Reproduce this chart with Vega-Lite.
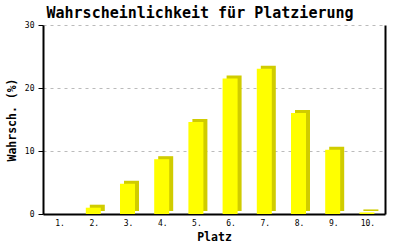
{
  "$schema": "https://vega.github.io/schema/vega-lite/v6.json",
  "autosize": "none",
  "width": 342,
  "height": 189,
  "padding": {"left": 43, "top": 25, "right": 15, "bottom": 36},
  "background": "white",
  "config": {
    "view": {"stroke": null},
    "font": "DejaVu Sans Mono"
  },
  "title": {
    "text": "Wahrscheinlichkeit für Platzierung",
    "font": "DejaVu Sans Mono",
    "fontSize": 15,
    "fontWeight": "bold",
    "color": "black",
    "anchor": "middle",
    "dx": -14,
    "offset": 0
  },
  "data": {
    "values": [
      {"Platz": "1.", "p": 0},
      {"Platz": "2.", "p": 1.0},
      {"Platz": "3.", "p": 4.8},
      {"Platz": "4.", "p": 8.7},
      {"Platz": "5.", "p": 14.6},
      {"Platz": "6.", "p": 21.5},
      {"Platz": "7.", "p": 23.05},
      {"Platz": "8.", "p": 16.05},
      {"Platz": "9.", "p": 10.2},
      {"Platz": "10.", "p": 0.25}
    ]
  },
  "encoding": {
    "x": {
      "field": "Platz",
      "type": "nominal",
      "sort": null,
      "scale": {"paddingInner": 0, "paddingOuter": 0},
      "axis": {
        "title": "Platz",
        "titleFont": "DejaVu Sans Mono",
        "titleFontSize": 11.5,
        "titleFontWeight": "bold",
        "titleColor": "black",
        "titlePadding": 4,
        "labelAngle": 0,
        "labelFont": "DejaVu Sans Mono",
        "labelFontSize": 8,
        "labelColor": "black",
        "labelPadding": 5,
        "ticks": false,
        "domainColor": "black",
        "domainWidth": 2
      }
    }
  },
  "layer": [
    {
      "mark": {"type": "bar", "width": 15, "color": "#D0CC00", "xOffset": 3, "yOffset": -3, "y2Offset": -3},
      "encoding": {
        "y": {
          "field": "p",
          "type": "quantitative",
          "scale": {"domain": [0, 30]},
          "axis": {
            "orient": "right",
            "title": null,
            "labels": false,
            "ticks": false,
            "grid": false,
            "domainColor": "black",
            "domainWidth": 2
          }
        }
      }
    },
    {
      "mark": {"type": "bar", "width": 15, "color": "#FFFF00", "xOffset": -1},
      "encoding": {
        "y": {
          "field": "p",
          "type": "quantitative",
          "scale": {"domain": [0, 30]},
          "axis": {
            "title": "Wahrsch. (%)",
            "titleFont": "DejaVu Sans Mono",
            "titleFontSize": 11.5,
            "titleFontWeight": "bold",
            "titleColor": "black",
            "titlePadding": 7,
            "values": [0, 10, 20, 30],
            "labelFont": "DejaVu Sans Mono",
            "labelFontSize": 8,
            "labelColor": "black",
            "labelPadding": 4,
            "tickColor": "black",
            "tickSize": 5,
            "domainColor": "black",
            "domainWidth": 2,
            "grid": true,
            "gridColor": "#bbbbbb",
            "gridDash": [3, 4]
          }
        }
      }
    }
  ],
  "resolve": {"axis": {"y": "independent"}}
}
